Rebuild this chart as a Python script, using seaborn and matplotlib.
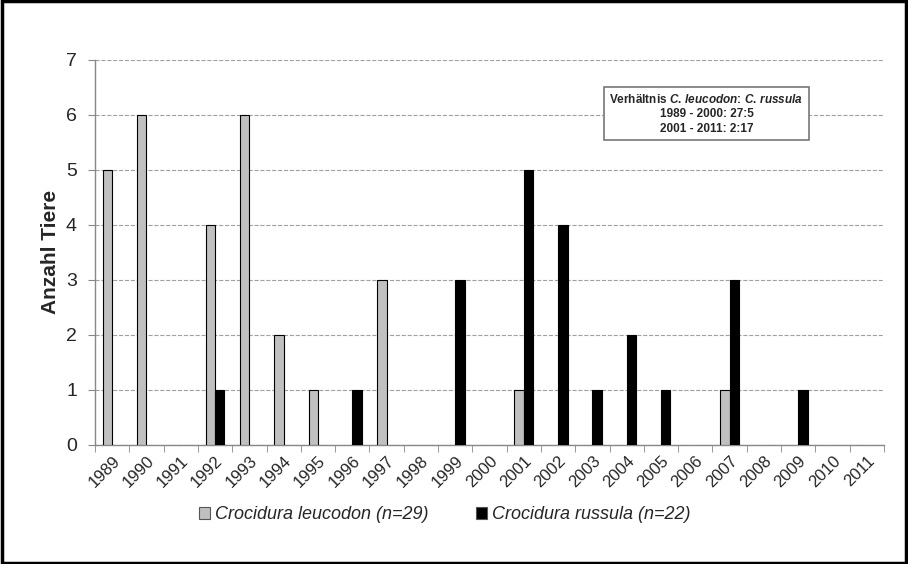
import numpy as np
import pandas as pd
import matplotlib
matplotlib.use('Agg')
import matplotlib.pyplot as plt
import seaborn as sns
from matplotlib.patches import Rectangle

years = [str(y) for y in range(1989, 2012)]
leucodon = [5, 6, 0, 4, 6, 2, 1, 0, 3, 0, 0, 0, 1, 0, 0, 0, 0, 0, 1, 0, 0, 0, 0]
russula = [0, 0, 0, 1, 0, 0, 0, 1, 0, 0, 3, 0, 5, 4, 1, 2, 1, 0, 3, 0, 1, 0, 0]
species = ['Crocidura leucodon (n=29)', 'Crocidura russula (n=22)']

df = pd.DataFrame({
    'Jahr': years * 2,
    'Anzahl': leucodon + russula,
    'Art': [species[0]] * len(years) + [species[1]] * len(years),
})

sns.set_style('white')
plt.rcParams['font.family'] = ['Liberation Sans', 'DejaVu Sans']
plt.rcParams['mathtext.fontset'] = 'custom'
plt.rcParams['mathtext.it'] = 'Liberation Sans:bold:italic'
plt.rcParams['mathtext.rm'] = 'Liberation Sans:bold'

fig = plt.figure(figsize=(9.08, 5.64), dpi=100)
ax = fig.add_axes([0.1046, 0.211, 0.869, 0.683])

sns.barplot(data=df, x='Jahr', y='Anzahl', hue='Art', order=years,
            palette=['#c0c0c0', '#000000'], width=0.55, edgecolor='black',
            linewidth=0.8, ax=ax, zorder=3)
# zero bars should not leave a line on the axis
for p in ax.patches:
    if p.get_height() == 0:
        p.set_linewidth(0)

ax.set_ylim(0, 7)
ax.set_xlim(-0.5, len(years) - 0.5)
ax.set_yticks(range(0, 8))
ax.yaxis.grid(True, linestyle='--', color='#a0a0a0', linewidth=0.8)
ax.tick_params(axis='y', labelsize=14, length=5, color='#888888', direction='out', left=True, pad=8)
ax.set_xticks(range(len(years)))
ax.set_xticklabels(years, rotation=45, ha='right', rotation_mode='anchor', fontsize=12)
ax.tick_params(axis='x', which='major', length=0, pad=6)
ax.set_xticks(np.arange(-0.5, len(years)), minor=True)
ax.tick_params(axis='x', which='minor', length=5, color='#888888', direction='out', bottom=True)
ax.set_xlabel('')
ax.set_ylabel('Anzahl Tiere', fontsize=15, fontweight='bold', labelpad=4)
for s in ['top', 'right']:
    ax.spines[s].set_visible(False)
for s in ['left', 'bottom']:
    ax.spines[s].set_color('#888888')
    ax.spines[s].set_linewidth(1)

ax.legend_.remove()
handles = [Rectangle((0, 0), 1, 1, facecolor=c, edgecolor='#555555', linewidth=0.8)
           for c in ['#c0c0c0', '#000000']]
fig.legend(handles, species, loc='center', bbox_to_anchor=(0.49, 0.087), ncol=2,
           frameon=False, prop={'style': 'italic', 'size': 13},
           handlelength=0.6, handleheight=0.6, handletextpad=0.3, columnspacing=2.6)

ax.text(0.775, 0.86,
        r'Verhältnis $C.\,leucodon$: $C.\,russula$' + '\n1989 - 2000: 27:5\n2001 - 2011: 2:17',
        transform=ax.transAxes, ha='center', va='center', fontsize=8.5, fontweight='bold',
        linespacing=1.3, zorder=5,
        bbox=dict(boxstyle='square,pad=0.45', facecolor='white', edgecolor='#777777', linewidth=1.2))

fig.patches.append(Rectangle((0.002, 0.002), 0.996, 0.996, transform=fig.transFigure,
                             fill=False, edgecolor='black', linewidth=2.5))

fig.savefig('out.png', dpi=100)
